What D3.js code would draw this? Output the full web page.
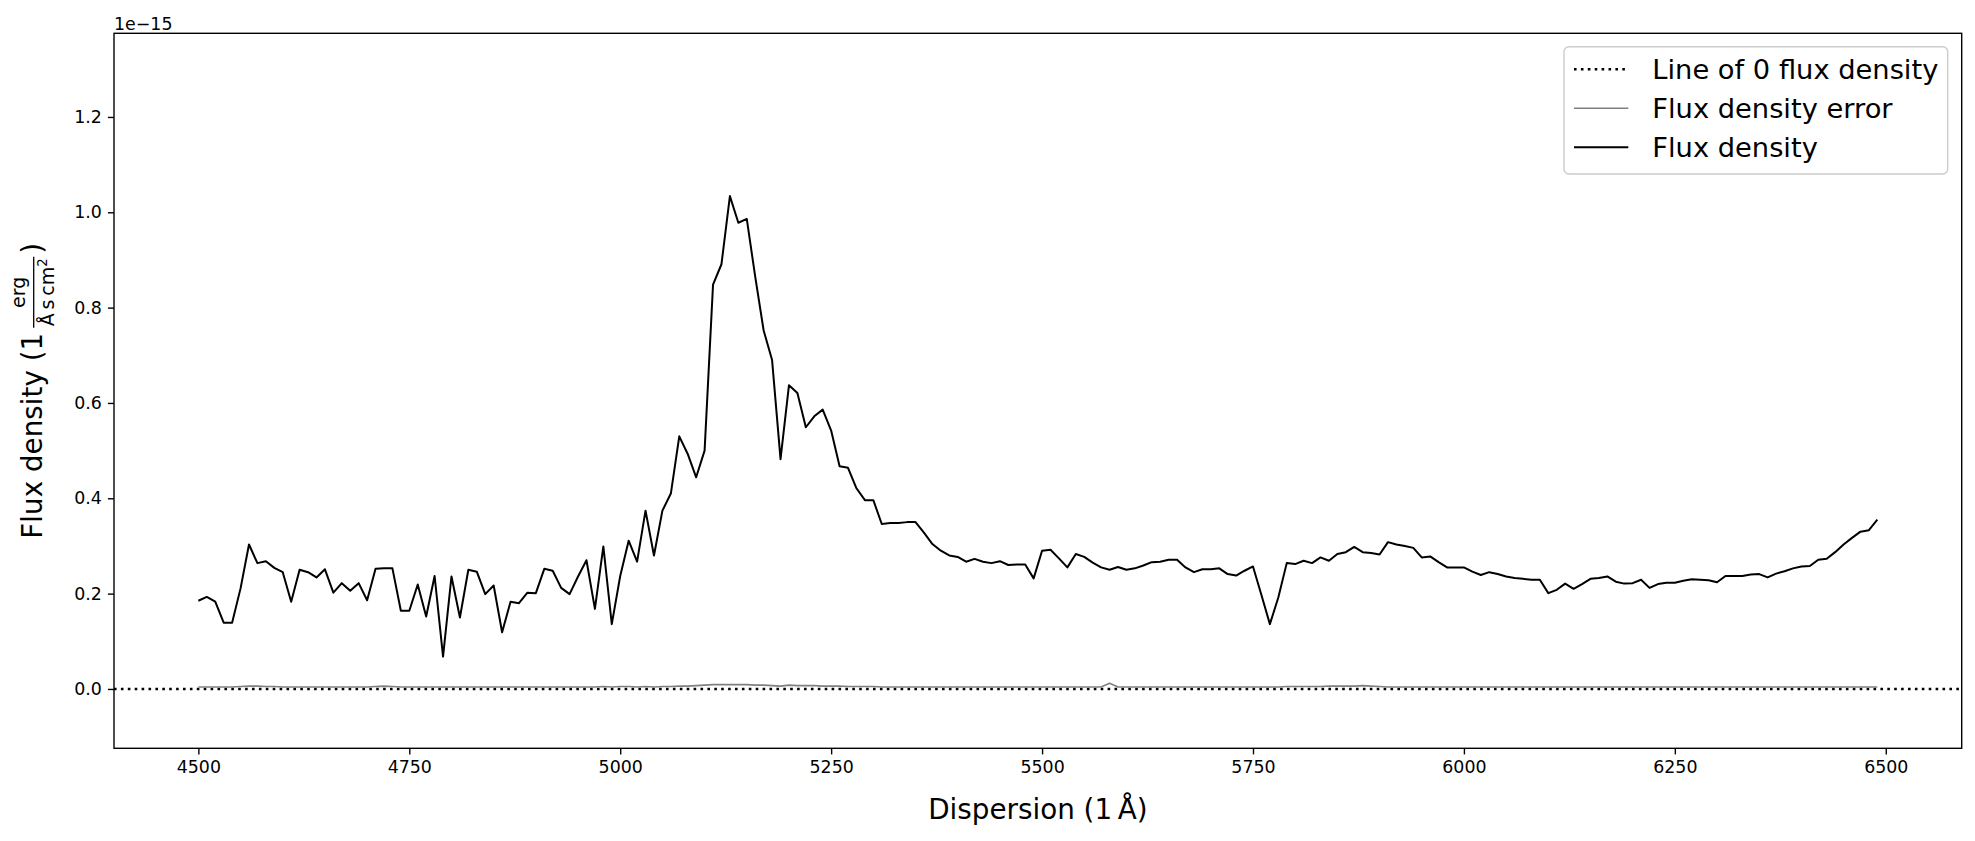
<!DOCTYPE html>
<html>
<head>
<meta charset="utf-8">
<script src="https://cdn.jsdelivr.net/npm/d3@7/dist/d3.min.js"></script>
<style>
  html, body { margin: 0; padding: 0; background: #ffffff; }
  svg { display: block; font-family: "DejaVu Sans", sans-serif; }
</style>
</head>
<body>
<svg id="chart" width="1975" height="841"></svg>
<script>
// Wavelength grid (Å)
const wavelength = [
  4500,4510,4520,4530,4540,4550,4560,4570,4580,4590,
  4600,4610,4620,4630,4640,4650,4660,4670,4680,4690,
  4700,4710,4720,4730,4740,4750,4760,4770,4780,4790,
  4800,4810,4820,4830,4840,4850,4860,4870,4880,4890,
  4900,4910,4920,4930,4940,4950,4960,4970,4980,4990,
  5000,5010,5020,5030,5040,5050,5060,5070,5080,5090,
  5100,5110,5120,5130,5140,5150,5160,5170,5180,5190,
  5200,5210,5220,5230,5240,5250,5260,5270,5280,5290,
  5300,5310,5320,5330,5340,5350,5360,5370,5380,5390,
  5400,5410,5420,5430,5440,5450,5460,5470,5480,5490,
  5500,5510,5520,5530,5540,5550,5560,5570,5580,5590,
  5600,5610,5620,5630,5640,5650,5660,5670,5680,5690,
  5700,5710,5720,5730,5740,5750,5760,5770,5780,5790,
  5800,5810,5820,5830,5840,5850,5860,5870,5880,5890,
  5900,5910,5920,5930,5940,5950,5960,5970,5980,5990,
  6000,6010,6020,6030,6040,6050,6060,6070,6080,6090,
  6100,6110,6120,6130,6140,6150,6160,6170,6180,6190,
  6200,6210,6220,6230,6240,6250,6260,6270,6280,6290,
  6300,6310,6320,6330,6340,6350,6360,6370,6380,6390,
  6400,6410,6420,6430,6440,6450,6460,6470,6480,6490
];

// Flux density (units of 1e-15 erg / (Å s cm²))
const fluxDensity = [
  0.185,0.193,0.183,0.139,0.139,0.211,0.303,0.264,0.268,0.254,
  0.245,0.183,0.250,0.245,0.234,0.251,0.202,0.222,0.206,0.222,
  0.186,0.252,0.253,0.253,0.164,0.164,0.219,0.152,0.237,0.068,
  0.236,0.150,0.250,0.246,0.199,0.217,0.119,0.183,0.180,0.202,
  0.201,0.252,0.248,0.212,0.199,0.236,0.270,0.168,0.299,0.136,
  0.237,0.311,0.267,0.374,0.280,0.374,0.410,0.530,0.493,0.444,
  0.500,0.848,0.891,1.034,0.978,0.986,0.865,0.752,0.690,0.482,
  0.637,0.621,0.549,0.572,0.586,0.542,0.467,0.464,0.421,0.396,
  0.396,0.346,0.348,0.348,0.350,0.350,0.328,0.304,0.290,0.280,
  0.277,0.267,0.273,0.267,0.264,0.268,0.260,0.261,0.261,0.232,
  0.290,0.292,0.274,0.255,0.283,0.277,0.265,0.255,0.250,0.256,
  0.250,0.253,0.259,0.266,0.267,0.271,0.271,0.255,0.245,0.251,
  0.251,0.253,0.241,0.238,0.248,0.257,0.197,0.136,0.192,0.264,
  0.262,0.269,0.264,0.276,0.269,0.283,0.287,0.298,0.287,0.285,
  0.282,0.308,0.303,0.300,0.296,0.276,0.278,0.266,0.255,0.255,
  0.255,0.246,0.239,0.245,0.241,0.236,0.233,0.231,0.229,0.229,
  0.201,0.208,0.221,0.210,0.220,0.231,0.233,0.236,0.225,0.221,
  0.222,0.229,0.212,0.220,0.223,0.223,0.227,0.230,0.229,0.228,
  0.224,0.237,0.237,0.237,0.240,0.241,0.234,0.242,0.247,0.253,
  0.257,0.258,0.271,0.273,0.287,0.303,0.317,0.330,0.333,0.355
];

// Flux density error (same units)
const fluxError = [
  0.004,0.004,0.004,0.004,0.004,0.005,0.006,0.006,0.005,0.005,
  0.004,0.004,0.004,0.004,0.004,0.004,0.004,0.004,0.004,0.004,
  0.004,0.005,0.006,0.005,0.004,0.004,0.004,0.004,0.004,0.004,
  0.004,0.004,0.004,0.004,0.004,0.004,0.004,0.004,0.004,0.004,
  0.004,0.004,0.004,0.004,0.004,0.004,0.004,0.004,0.005,0.004,
  0.005,0.005,0.004,0.005,0.004,0.005,0.005,0.006,0.006,0.007,
  0.008,0.009,0.009,0.009,0.009,0.009,0.008,0.008,0.007,0.006,
  0.008,0.007,0.007,0.007,0.006,0.006,0.006,0.005,0.005,0.005,
  0.005,0.004,0.004,0.004,0.004,0.004,0.004,0.004,0.004,0.004,
  0.004,0.004,0.004,0.004,0.004,0.004,0.004,0.004,0.004,0.004,
  0.004,0.004,0.004,0.004,0.004,0.004,0.004,0.004,0.012,0.004,
  0.004,0.004,0.004,0.004,0.004,0.004,0.004,0.004,0.004,0.004,
  0.004,0.004,0.004,0.004,0.004,0.004,0.004,0.004,0.004,0.005,
  0.005,0.005,0.005,0.005,0.006,0.006,0.006,0.006,0.007,0.006,
  0.005,0.004,0.004,0.004,0.004,0.004,0.004,0.004,0.004,0.004,
  0.004,0.004,0.004,0.004,0.004,0.004,0.004,0.004,0.004,0.004,
  0.004,0.004,0.004,0.004,0.004,0.004,0.004,0.004,0.004,0.004,
  0.004,0.004,0.004,0.004,0.004,0.004,0.004,0.004,0.004,0.004,
  0.004,0.004,0.004,0.004,0.004,0.004,0.004,0.004,0.004,0.004,
  0.004,0.004,0.004,0.004,0.004,0.004,0.004,0.004,0.004,0.004
];

const xTicks = [4500, 4750, 5000, 5250, 5500, 5750, 6000, 6250, 6500];
const yTicks = [0.0, 0.2, 0.4, 0.6, 0.8, 1.0, 1.2];
const legendLabels = ["Line of 0 flux density", "Flux density error", "Flux density"];
const xDomain = [4400, 6590];
const yDomain = [-0.1245, 1.3755];

// ---------- layout ----------
const W = 1975, H = 841;
const plot = { left: 114, right: 1961.7, top: 33.3, bottom: 748.3 };
const svg = d3.select("#chart");
svg.append("rect").attr("width", W).attr("height", H).attr("fill", "#ffffff");

const x = d3.scaleLinear().domain(xDomain).range([plot.left, plot.right]);
const y = d3.scaleLinear().domain(yDomain).range([plot.bottom, plot.top]);

const tickFont = 17.4, labelFont = 27.8, legendFont = 27.3;
const spineW = 1.39;

// clip
svg.append("defs").append("clipPath").attr("id", "clip")
  .append("rect").attr("x", plot.left).attr("y", plot.top)
  .attr("width", plot.right - plot.left).attr("height", plot.bottom - plot.top);

const g = svg.append("g").attr("clip-path", "url(#clip)");

// zero line (axhline)
g.append("line")
  .attr("x1", plot.left).attr("x2", plot.right)
  .attr("y1", y(0)).attr("y2", y(0))
  .attr("stroke", "#000").attr("stroke-width", 2.6)
  .attr("stroke-dasharray", "2.6 4.3");

const pts = wavelength.map((w, i) => ({ w, f: fluxDensity[i], e: fluxError[i] }));

// error
g.append("path").datum(pts)
  .attr("fill", "none").attr("stroke", "#808080").attr("stroke-width", 1.6)
  .attr("stroke-linejoin", "round")
  .attr("d", d3.line().x(d => x(d.w)).y(d => y(d.e)));

// flux
g.append("path").datum(pts)
  .attr("fill", "none").attr("stroke", "#000").attr("stroke-width", 2.0)
  .attr("stroke-linejoin", "round")
  .attr("d", d3.line().x(d => x(d.w)).y(d => y(d.f)));

// ---------- axes ----------
const xAxis = d3.axisBottom(x).tickValues(xTicks).tickFormat(d3.format("d"))
  .tickSizeInner(6.1).tickSizeOuter(0).tickPadding(6.1);
const gx = svg.append("g").attr("transform", `translate(0,${plot.bottom})`).call(xAxis);
gx.select(".domain").remove();
gx.selectAll(".tick line").attr("stroke", "#000").attr("stroke-width", spineW);
gx.selectAll(".tick text").attr("font-size", tickFont).attr("fill", "#000")
  .attr("font-family", "DejaVu Sans");

const yAxis = d3.axisLeft(y).tickValues(yTicks).tickFormat(d3.format(".1f"))
  .tickSizeInner(6.1).tickSizeOuter(0).tickPadding(6.1);
const gy = svg.append("g").attr("transform", `translate(${plot.left},0)`).call(yAxis);
gy.select(".domain").remove();
gy.selectAll(".tick line").attr("stroke", "#000").attr("stroke-width", spineW);
gy.selectAll(".tick text").attr("font-size", tickFont).attr("fill", "#000")
  .attr("font-family", "DejaVu Sans");

// spines
svg.append("rect")
  .attr("x", plot.left).attr("y", plot.top)
  .attr("width", plot.right - plot.left).attr("height", plot.bottom - plot.top)
  .attr("fill", "none").attr("stroke", "#000").attr("stroke-width", spineW);

// offset text
svg.append("text").attr("x", plot.left).attr("y", 29.5)
  .attr("font-size", tickFont).attr("fill", "#000").text("1e\u221215");

// x label
svg.append("text")
  .attr("x", (plot.left + plot.right) / 2).attr("y", 819.3)
  .attr("text-anchor", "middle").attr("font-size", labelFont).attr("fill", "#000")
  .text("Dispersion (1\u2009\u00C5)");

// y label with fraction
const yl = svg.append("g")
  .attr("transform", `translate(41.7,${(plot.top + plot.bottom) / 2}) rotate(-90)`);
const fracFont = 19.0;
const t1 = yl.append("text").attr("font-size", labelFont).attr("fill", "#000")
  .attr("y", 0).text("Flux density (1");
const num = yl.append("text").attr("font-size", fracFont).attr("fill", "#000")
  .attr("y", -16.5).attr("text-anchor", "middle").text("erg");
const den = yl.append("text").attr("font-size", fracFont).attr("fill", "#000")
  .attr("y", 12.5).attr("text-anchor", "middle");
den.append("tspan").text("\u00C5\u2009s\u2009cm");
den.append("tspan").attr("font-size", fracFont * 0.7).attr("dy", -7).text("2");
const t3 = yl.append("text").attr("font-size", labelFont).attr("fill", "#000")
  .attr("y", 0).text(")");
const w1 = t1.node().getComputedTextLength();
const wn = num.node().getComputedTextLength();
const wd = den.node().getComputedTextLength();
const w3 = t3.node().getComputedTextLength();
const gap1 = 5, pad = 1.5, gap2 = 3;
const wf = Math.max(wn, wd) + 2 * pad;
const total = w1 + gap1 + wf + gap2 + w3;
let cx = -total / 2;
t1.attr("x", cx);
cx += w1 + gap1;
const fc = cx + wf / 2;
num.attr("x", fc);
den.attr("x", fc);
yl.append("line").attr("x1", cx).attr("x2", cx + wf)
  .attr("y1", -8.0).attr("y2", -8.0).attr("stroke", "#000").attr("stroke-width", 1.3);
cx += wf + gap2;
t3.attr("x", cx);

// ---------- legend ----------
const lg = svg.append("g");
lg.append("rect").attr("x", 1564).attr("y", 46.7).attr("width", 383.7).attr("height", 127.3)
  .attr("rx", 4.9).attr("ry", 4.9)
  .attr("fill", "#ffffff").attr("fill-opacity", 0.8)
  .attr("stroke", "#cccccc").attr("stroke-width", 1.39);
const legendStyles = [
  { stroke: "#000", width: 2.6, dash: "2.6 4.3" },
  { stroke: "#808080", width: 1.6, dash: null },
  { stroke: "#000", width: 2.0, dash: null }
];
const rowY = [69.3, 108.3, 147.3];
legendLabels.forEach((lab, i) => {
  const st = legendStyles[i];
  const ln = lg.append("line").attr("x1", 1574).attr("x2", 1628.3)
    .attr("y1", rowY[i]).attr("y2", rowY[i])
    .attr("stroke", st.stroke).attr("stroke-width", st.width);
  if (st.dash) ln.attr("stroke-dasharray", st.dash);
  lg.append("text").attr("x", 1652.3).attr("y", rowY[i] + 9.8)
    .attr("font-size", legendFont).attr("fill", "#000").text(lab);
});
</script>
</body>
</html>
